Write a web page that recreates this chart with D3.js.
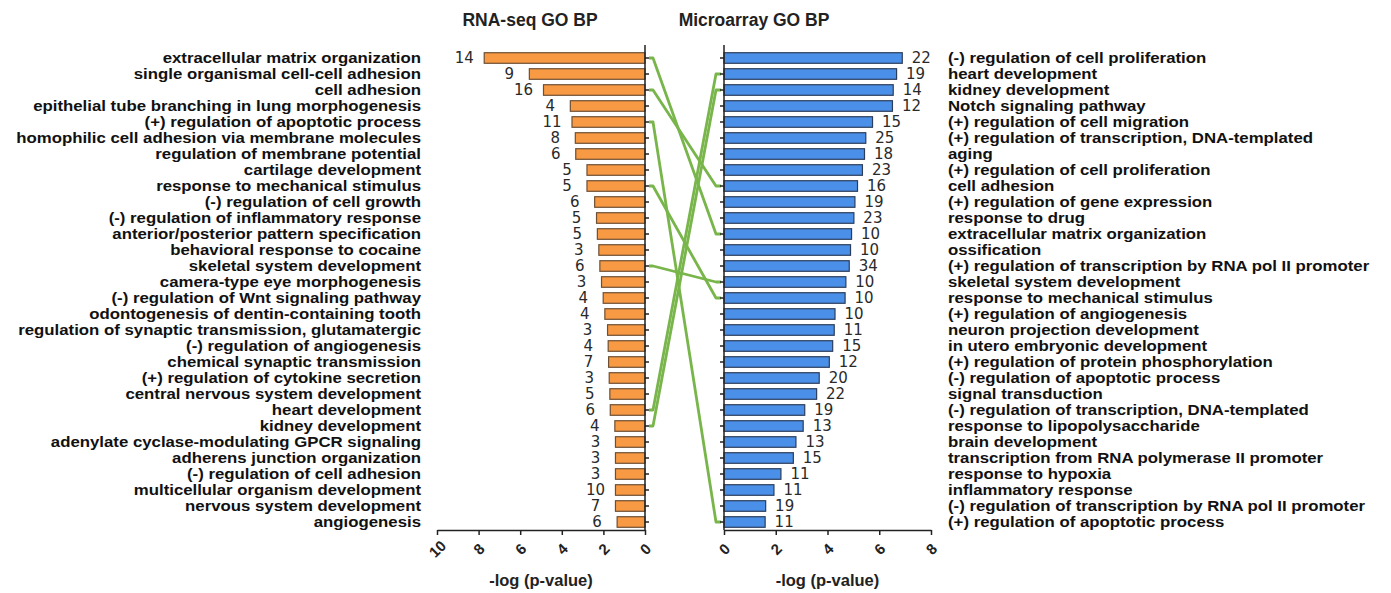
<!DOCTYPE html>
<html>
<head>
<meta charset="utf-8">
<script src="https://cdn.jsdelivr.net/npm/d3@7"></script>
<style>
  body { margin: 0; background: #fff; }
  text { font-family: "Liberation Sans", Arial, sans-serif; }
</style>
</head>
<body>
<div id="chart-container"></div>
<script>
// RNA-seq GO BP terms, -log(p) and gene counts
const rnaTerms = [
  "extracellular matrix organization",
  "single organismal cell-cell adhesion",
  "cell adhesion",
  "epithelial tube branching in lung morphogenesis",
  "(+) regulation of apoptotic process",
  "homophilic cell adhesion via membrane molecules",
  "regulation of membrane potential",
  "cartilage development",
  "response to mechanical stimulus",
  "(-) regulation of cell growth",
  "(-) regulation of inflammatory response",
  "anterior/posterior pattern specification",
  "behavioral response to cocaine",
  "skeletal system development",
  "camera-type eye morphogenesis",
  "(-) regulation of Wnt signaling pathway",
  "odontogenesis of dentin-containing tooth",
  "regulation of synaptic transmission, glutamatergic",
  "(-) regulation of angiogenesis",
  "chemical synaptic transmission",
  "(+) regulation of cytokine secretion",
  "central nervous system development",
  "heart development",
  "kidney development",
  "adenylate cyclase-modulating GPCR signaling",
  "adherens junction organization",
  "(-) regulation of cell adhesion",
  "multicellular organism development",
  "nervous system development",
  "angiogenesis"
];
const rnaValues = [7.73, 5.56, 4.88, 3.59, 3.51, 3.35, 3.33, 2.79, 2.79, 2.42,
  2.33, 2.29, 2.22, 2.17, 2.09, 2.01, 1.93, 1.80, 1.77, 1.75,
  1.72, 1.69, 1.67, 1.45, 1.42, 1.42, 1.42, 1.42, 1.42, 1.34];
const rnaCounts = [14, 9, 16, 4, 11, 8, 6, 5, 5, 6, 5, 5, 3, 6, 3, 4, 4, 3, 4, 7,
  3, 5, 6, 4, 3, 3, 3, 10, 7, 6];

// Microarray GO BP terms
const microTerms = [
  "(-) regulation of cell proliferation",
  "heart development",
  "kidney development",
  "Notch signaling pathway",
  "(+) regulation of cell migration",
  "(+) regulation of transcription, DNA-templated",
  "aging",
  "(+) regulation of cell proliferation",
  "cell adhesion",
  "(+) regulation of gene expression",
  "response to drug",
  "extracellular matrix organization",
  "ossification",
  "(+) regulation of transcription by RNA pol II promoter",
  "skeletal system development",
  "response to mechanical stimulus",
  "(+) regulation of angiogenesis",
  "neuron projection development",
  "in utero embryonic development",
  "(+) regulation of protein phosphorylation",
  "(-) regulation of apoptotic process",
  "signal transduction",
  "(-) regulation of transcription, DNA-templated",
  "response to lipopolysaccharide",
  "brain development",
  "transcription from RNA polymerase II promoter",
  "response to hypoxia",
  "inflammatory response",
  "(-) regulation of transcription by RNA pol II promoter",
  "(+) regulation of apoptotic process"
];
const microValues = [6.89, 6.67, 6.54, 6.51, 5.74, 5.48, 5.43, 5.35, 5.16, 5.06,
  5.02, 4.93, 4.89, 4.84, 4.71, 4.68, 4.29, 4.26, 4.20, 4.07,
  3.68, 3.58, 3.12, 3.06, 2.78, 2.68, 2.20, 1.93, 1.61, 1.59];
const microCounts = [22, 19, 14, 12, 15, 25, 18, 23, 16, 19, 23, 10, 10, 34, 10, 10,
  10, 11, 15, 12, 20, 22, 19, 13, 13, 15, 11, 11, 19, 11];

const rnaTicks = [0, 2, 4, 6, 8, 10];
const microTicks = [0, 2, 4, 6, 8];

// terms shared by both lists
const shared = rnaTerms.filter(t => microTerms.includes(t));

const main = function() {
  const svg = d3.select("#chart-container")
    .append("svg")
    .attr("width", 1391)
    .attr("height", 593);

  const y = d3.scaleBand()
    .domain(d3.range(30))
    .range([50, 530])
    .paddingInner(0.34)
    .paddingOuter(0.17);
  const mid = i => y(i) + y.bandwidth() / 2;

  const xL = d3.scaleLinear().domain([0, 10]).range([645, 437]);
  const xR = d3.scaleLinear().domain([0, 8]).range([724, 931]);
  const axisY = 530;

  // connecting lines
  svg.append("g")
    .selectAll("path")
    .data(shared)
    .enter()
    .append("path")
    .attr("d", t => {
      const yl = mid(rnaTerms.indexOf(t));
      const yr = mid(microTerms.indexOf(t));
      return "M" + (xL(0) + 4) + "," + yl + "L" + (xL(0) + 8) + "," + yl +
        "L" + (xR(0) - 8) + "," + yr + "L" + (xR(0) - 3) + "," + yr;
    })
    .style("fill", "none")
    .style("stroke", "#78b54a")
    .style("stroke-width", 2.8)
    .style("stroke-linejoin", "round");

  // left bars
  svg.append("g")
    .selectAll("rect")
    .data(rnaValues)
    .enter()
    .append("rect")
    .attr("x", d => xL(d))
    .attr("y", (d, i) => y(i))
    .attr("width", d => xL(0) - xL(d))
    .attr("height", y.bandwidth())
    .style("fill", "#f89a43")
    .style("stroke", "#6e4f33")
    .style("stroke-width", 1.2);

  // right bars
  svg.append("g")
    .selectAll("rect")
    .data(microValues)
    .enter()
    .append("rect")
    .attr("x", xR(0))
    .attr("y", (d, i) => y(i))
    .attr("width", d => xR(d) - xR(0))
    .attr("height", y.bandwidth())
    .style("fill", "#4a8fe8")
    .style("stroke", "#2c3d5a")
    .style("stroke-width", 1.2);

  // counts
  svg.append("g")
    .selectAll("text")
    .data(rnaValues)
    .enter()
    .append("text")
    .attr("x", d => xL(d) - 20)
    .attr("y", (d, i) => mid(i))
    .attr("dy", "0.36em")
    .attr("text-anchor", "middle")
    .style("font-family", "'DejaVu Sans', Verdana, sans-serif")
    .style("font-size", "15px")
    .style("fill", "#2a2a2a")
    .text((d, i) => rnaCounts[i]);

  svg.append("g")
    .selectAll("text")
    .data(microValues)
    .enter()
    .append("text")
    .attr("x", d => xR(d) + 19)
    .attr("y", (d, i) => mid(i))
    .attr("dy", "0.36em")
    .attr("text-anchor", "middle")
    .style("font-family", "'DejaVu Sans', Verdana, sans-serif")
    .style("font-size", "15px")
    .style("fill", "#2a2a2a")
    .text((d, i) => microCounts[i]);

  // term labels (wide, squat lettering)
  svg.append("g")
    .selectAll("text")
    .data(rnaTerms)
    .enter()
    .append("text")
    .attr("transform", (d, i) => "translate(421," + mid(i) + ") scale(1.12,1)")
    .attr("dy", "0.36em")
    .attr("text-anchor", "end")
    .style("font-size", "15px")
    .style("font-weight", "bold")
    .style("fill", "#111")
    .text(d => d);

  svg.append("g")
    .selectAll("text")
    .data(microTerms)
    .enter()
    .append("text")
    .attr("transform", (d, i) => "translate(948," + mid(i) + ") scale(1.12,1)")
    .attr("dy", "0.36em")
    .attr("text-anchor", "start")
    .style("font-size", "15px")
    .style("font-weight", "bold")
    .style("fill", "#111")
    .text(d => d);

  // axes
  const styleAxis = g => {
    g.selectAll("path, line").style("stroke", "#222").style("stroke-width", 1.5);
    g.selectAll("text")
      .style("font-size", "15px")
      .style("font-weight", "bold")
      .style("fill", "#222")
      .attr("y", 0)
      .attr("dy", "0.35em")
      .attr("text-anchor", "middle")
      .attr("transform", "translate(0,19) rotate(-45)");
  };

  svg.append("g")
    .attr("transform", "translate(0," + axisY + ")")
    .call(d3.axisBottom(xL).tickValues(rnaTicks).tickSize(5).tickSizeOuter(0))
    .call(styleAxis);

  svg.append("g")
    .attr("transform", "translate(0," + axisY + ")")
    .call(d3.axisBottom(xR).tickValues(microTicks).tickSize(5).tickSizeOuter(0))
    .call(styleAxis);

  const styleY = g => {
    g.selectAll("path, line").style("stroke", "#222").style("stroke-width", 1.5);
    g.select(".domain").remove();
  };

  svg.append("g")
    .attr("transform", "translate(" + xL(0) + ",0)")
    .call(d3.axisRight(y).tickSize(4).tickFormat(""))
    .call(styleY);

  svg.append("g")
    .attr("transform", "translate(" + xR(0) + ",0)")
    .call(d3.axisLeft(y).tickSize(4).tickFormat(""))
    .call(styleY);

  // vertical axis lines
  [xL(0), xR(0)].forEach(x => {
    svg.append("line")
      .attr("x1", x).attr("x2", x)
      .attr("y1", 45).attr("y2", axisY)
      .style("stroke", "#222")
      .style("stroke-width", 1.5);
  });

  // titles
  svg.append("text")
    .attr("x", 530).attr("y", 20).attr("dy", "0.36em")
    .attr("text-anchor", "middle")
    .style("font-size", "17.5px").style("font-weight", "bold").style("fill", "#222")
    .text("RNA-seq GO BP");

  svg.append("text")
    .attr("x", 754).attr("y", 20).attr("dy", "0.36em")
    .attr("text-anchor", "middle")
    .style("font-size", "17.5px").style("font-weight", "bold").style("fill", "#222")
    .text("Microarray GO BP");

  svg.append("text")
    .attr("x", (xL(0) + xL(10)) / 2).attr("y", 580).attr("dy", "0.36em")
    .attr("text-anchor", "middle")
    .style("font-size", "16.5px").style("font-weight", "bold").style("fill", "#222")
    .text("-log (p-value)");

  svg.append("text")
    .attr("x", (xR(0) + xR(8)) / 2).attr("y", 580).attr("dy", "0.36em")
    .attr("text-anchor", "middle")
    .style("font-size", "16.5px").style("font-weight", "bold").style("fill", "#222")
    .text("-log (p-value)");
};

window.onload = main;
</script>
</body>
</html>
